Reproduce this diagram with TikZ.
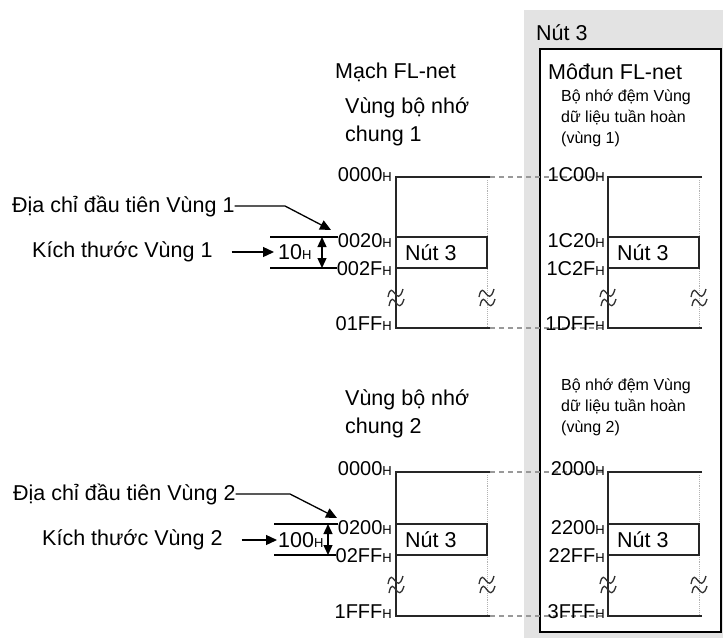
\documentclass[tikz,border=0pt]{standalone}
\usepackage{fontspec}
\setmainfont{Liberation Sans}
\usetikzlibrary{arrows.meta, positioning}

% small subscript H of the addresses
\newcommand{\hs}{{\fontsize{13}{13}\selectfont H}}

% one memory column: x, top, box top, box bottom, break, bottom
\newcommand{\memcol}[6]{%
  \draw[guide] (#1+91,#2+3) -- (#1+91,#6);
  \draw[memline] (#1+94,#2) -- (#1,#2) -- (#1,#6) -- (#1+94,#6);
  \draw[memline] (#1,#3) rectangle (#1+91,#4);
  \brkmark{#1}{#5}
  \brkmark{#1+91}{#5}
}

% wavy break sign on a vertical line
\newcommand{\brkmark}[2]{%
  \draw[black!80, line width=1.3pt] (#1-8,#2-1) .. controls (#1-4,#2-21) and (#1+1,#2+12) .. (#1+7,#2-9);
  \draw[black!80, line width=1.3pt] (#1-7,#2+8) .. controls (#1-3,#2-12) and (#1+2,#2+21) .. (#1+8,#2+1);
}

\tikzset{
  lbl/.style={font=\fontsize{21.5}{25}\selectfont, inner sep=0pt},
  small/.style={font=\fontsize{16}{20}\selectfont, inner sep=0pt, align=left},
  addr/.style={font=\fontsize{20}{24}\selectfont, inner sep=0pt, anchor=base east},
  memline/.style={black!85, line width=1.5pt},
  guide/.style={gray!60, line width=0.9pt, densely dotted},
  link/.style={gray!80, line width=1.1pt, dash pattern=on 5pt off 4pt},
  tick/.style={black, line width=1.2pt},
  ptr/.style={-{Triangle[length=11pt, width=10pt]}, line width=1.3pt},
  dim/.style={{Triangle[length=10pt, width=9pt]}-{Triangle[length=10pt, width=9pt]}, line width=1.3pt},
}

\begin{document}
\begin{tikzpicture}[x=1pt, y=-1pt]
\useasboundingbox (0,0) rectangle (723,638);

% Node 3 panel
\fill[gray!22] (524,10) rectangle (723,638);
\draw[fill=white, line width=1.3pt] (540,49) rectangle (721,632);

% Headings
\node[lbl, anchor=west] (node3) at (536,33) {Nút 3};
\node[lbl, anchor=west] (circuit) at (335,72) {Mạch FL-net};
\node[lbl, anchor=west] (module) at (548,72) {Môđun FL-net};
\node[lbl, anchor=north west, align=left] (common1) at (345,97) {Vùng bộ nhớ\\[3pt]chung 1};
\node[small, anchor=north west] (buffer1) at (561,90) {Bộ nhớ đệm Vùng\\[1pt]dữ liệu tuần hoàn\\[1pt](vùng 1)};
\node[lbl, anchor=north west, align=left] (common2) at (345,389) {Vùng bộ nhớ\\[3pt]chung 2};
\node[small, anchor=north west] (buffer2) at (561,379) {Bộ nhớ đệm Vùng\\[1pt]dữ liệu tuần hoàn\\[1pt](vùng 2)};

% Links between the two memories
\draw[link] (490,177) -- (608,177);
\draw[link] (490,328) -- (608,328);
\draw[link] (490,472) -- (608,472);
\draw[link] (490,616) -- (608,616);

% Memory columns
\memcol{396}{177}{237}{268}{298}{328}
\memcol{608}{177}{237}{268}{298}{328}
\memcol{396}{472}{524}{555}{585}{616}
\memcol{608}{472}{524}{555}{585}{616}

% Node 3 areas
\node[lbl, anchor=west] (nutA) at (405,253) {Nút 3};
\node[lbl, anchor=west] (nutB) at (617,253) {Nút 3};
\node[lbl, anchor=west] (nutC) at (405,540) {Nút 3};
\node[lbl, anchor=west] (nutD) at (617,540) {Nút 3};

% Addresses, area 1
\node[addr] (a1s) at (392,181) {0000\hs};
\node[addr] (a1b) at (392,247) {0020\hs};
\node[addr] (a1e) at (392,275) {002F\hs};
\node[addr] (a1z) at (392,330) {01FF\hs};
\node[addr] (b1s) at (605,181) {1C00\hs};
\node[addr] (b1b) at (605,247) {1C20\hs};
\node[addr] (b1e) at (605,275) {1C2F\hs};
\node[addr] (b1z) at (605,330) {1DFF\hs};

% Addresses, area 2
\node[addr] (a2s) at (392,475) {0000\hs};
\node[addr] (a2b) at (392,534) {0200\hs};
\node[addr] (a2e) at (392,562) {02FF\hs};
\node[addr] (a2z) at (392,618) {1FFF\hs};
\node[addr] (b2s) at (605,475) {2000\hs};
\node[addr] (b2b) at (605,534) {2200\hs};
\node[addr] (b2e) at (605,562) {22FF\hs};
\node[addr] (b2z) at (605,618) {3FFF\hs};

% Annotations, area 1
\node[lbl, anchor=west] (first1) at (12,206) {Địa chỉ đầu tiên Vùng 1};
\coordinate (bend1) at (285,206);
\coordinate (tip1) at (331,230);
\draw[ptr] (first1.east) -- (bend1) -- (tip1);
\node[lbl, anchor=west] (size1) at (32,252) {Kích thước Vùng 1};
\node[lbl, anchor=west] (len1) at (278,252) {10\hs};
\draw[ptr] ([xshift=19pt]size1.east) -- ([xshift=-4pt]len1.west);
\draw[tick] (270,237) -- (a1b.west |- 0,237);
\draw[tick] (270,268) -- (a1e.west |- 0,268);
\draw[dim] (322,237) -- (322,268);

% Annotations, area 2
\node[lbl, anchor=west] (first2) at (13,494) {Địa chỉ đầu tiên Vùng 2};
\coordinate (bend2) at (290,494);
\coordinate (tip2) at (337,518);
\draw[ptr] (first2.east) -- (bend2) -- (tip2);
\node[lbl, anchor=west] (size2) at (42,540) {Kích thước Vùng 2};
\node[lbl, anchor=west] (len2) at (278,540) {100\hs};
\draw[ptr] ([xshift=19pt]size2.east) -- ([xshift=-1pt]len2.west);
\draw[tick] (274,524) -- (a2b.west |- 0,524);
\draw[tick] (274,555) -- (a2e.west |- 0,555);
\draw[dim] (328,524) -- (328,555);
\end{tikzpicture}
\end{document}
